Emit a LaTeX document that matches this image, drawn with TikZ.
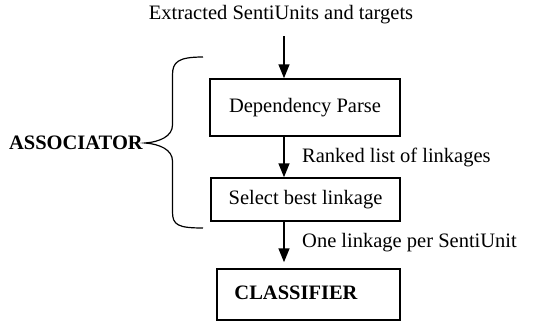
\documentclass[tikz,border=0pt]{standalone}
\usepackage{fontspec}
\setmainfont{Liberation Serif}
\usetikzlibrary{arrows.meta}
\begin{document}
\begin{tikzpicture}[x=1pt,y=-1pt,
  every node/.style={font=\fontsize{20.5}{24}\selectfont, inner sep=0pt},
  stage/.style={draw, line width=1.5pt},
  arr/.style={line width=1.5pt, -{Triangle[length=14pt,width=11pt]}},
  brace/.style={line width=1.2pt}]
\useasboundingbox (0,0) rectangle (547,324);

% input text
\node (input) at (281,15) {Extracted SentiUnits and targets};

% stages of the associator
\node[stage, minimum width=190pt, minimum height=57pt] (parse) at (305,107.5) {Dependency Parse};
\node[stage, minimum width=189pt, minimum height=43pt] (select) at (305.5,199.5) {Select best linkage};
\node[stage, minimum width=183pt, minimum height=51pt] (cls) at (308.5,294.5) {};
\node[font=\fontsize{20.5}{24}\selectfont\bfseries] (clstext) at (296,293) {CLASSIFIER};

% flow arrows
\coordinate (ax) at (284,0);
\coordinate (a0) at (284,36);
\draw[arr] (a0) -- (parse.north -| ax);
\draw[arr] (parse.south -| ax) -- (select.north -| ax);
\draw[arr, shorten >=6pt] (select.south -| ax) -- (cls.north -| ax);

% arrow labels
\node[anchor=west] (l1) at (302,157) {Ranked list of linkages};
\node[anchor=west] (l2) at (302,243) {One linkage per SentiUnit};

% brace grouping the associator stages
\node[anchor=east, font=\fontsize{20.5}{24}\selectfont\bfseries] (assoc) at (143,143) {ASSOCIATOR};
\coordinate (tip) at (145,143);
\draw[brace] (203,57) .. controls (178,57) and (172.5,62) .. (172.5,75)
  -- (172.5,125) .. controls (172.5,136) and (160,142) .. (tip)
  .. controls (160,144) and (172.5,150) .. (172.5,161)
  -- (172.5,212) .. controls (172.5,225) and (178,228) .. (203,228);
\end{tikzpicture}
\end{document}
